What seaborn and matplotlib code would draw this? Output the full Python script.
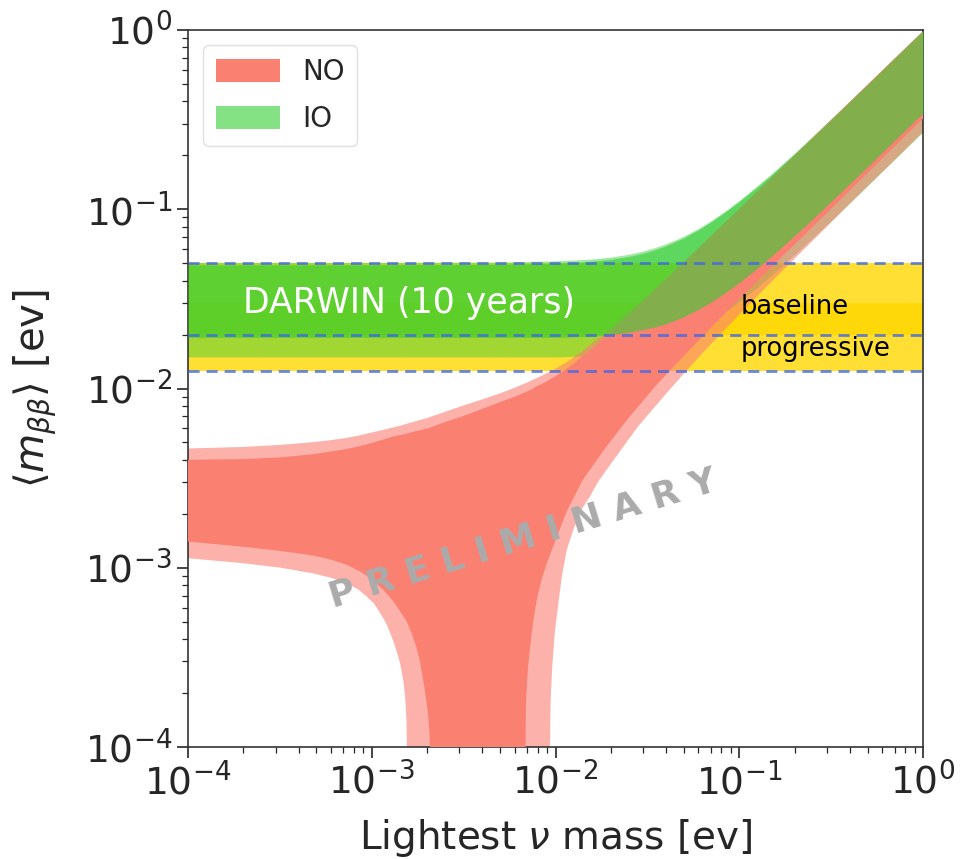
import matplotlib
matplotlib.use('Agg')
import matplotlib.pyplot as plt
import seaborn as sns
from matplotlib.patches import Patch

sns.set_theme(style='ticks')
plt.rcParams['font.family'] = ['DejaVu Sans']

# ---------------- data ----------------
# Normal ordering, 3 sigma (light) band
NO3_x = [1e-4, 2e-4, 3.2e-4, 4.8e-4, 6e-4, 7.3e-4, 8.4e-4, 9.4e-4, 1.03e-3, 1.11e-3, 1.21e-3, 1.31e-3,
         1.38e-3, 1.43e-3, 1.48e-3, 1.52e-3, 1.545e-3, 1.555e-3, 1.57e-3, 2e-3, 2.5e-3, 3e-3, 4e-3,
         5e-3, 6e-3, 7e-3, 8e-3, 9.0e-3, 9.25e-3, 9.33e-3, 9.41e-3, 9.6e-3, 9.9e-3, 1.03e-2, 1.08e-2,
         1.15e-2, 1.25e-2, 1.38e-2, 1.54e-2, 1.7e-2, 1.89e-2, 2.15e-2, 2.43e-2, 2.8e-2, 3.27e-2,
         3.8e-2, 4.38e-2, 5.5e-2, 7e-2, 0.1, 0.15, 0.2, 0.3, 0.5, 0.7, 1.0]
NO3_lo = [0.00113, 0.00106, 0.00100, 0.00093, 0.00088, 0.00082, 0.00076, 0.00069, 0.00063, 0.00056,
          0.00048, 0.00039, 0.00033, 0.00029, 0.00024, 0.00019, 0.00014, 0.00009, 1e-6, 1e-6, 1e-6,
          1e-6, 1e-6, 1e-6, 1e-6, 1e-6, 1e-6, 1e-6, 1e-6, 0.0001, 0.000183, 0.00028, 0.00043, 0.0006,
          0.00088, 0.00125, 0.00163, 0.0021, 0.0025, 0.0030, 0.0035, 0.0042, 0.0050, 0.0061, 0.00736,
          0.0088, 0.0104, 0.01353, 0.01764, 0.0258, 0.0395, 0.053, 0.080, 0.1345, 0.188, 0.27]
NO3_hi = [0.00463, 0.00472, 0.00485, 0.00502, 0.00515, 0.0053, 0.00545, 0.0056, 0.00572, 0.00582,
          0.00595, 0.00607, 0.00615, 0.00621, 0.00627, 0.00632, 0.00635, 0.00636, 0.00638, 0.00685,
          0.0074, 0.0079, 0.0087, 0.0094, 0.0101, 0.0108, 0.0115, 0.0122, 0.0124, 0.0124, 0.0125,
          0.0126, 0.0128, 0.0131, 0.0135, 0.0140, 0.0149, 0.0160, 0.0175, 0.0190, 0.0208, 0.0232,
          0.0259, 0.0295, 0.0341, 0.0393, 0.0450, 0.0562, 0.0713, 0.1012, 0.151, 0.201, 0.300, 0.497,
          0.694, 0.985]

# Normal ordering, 1 sigma (dark) band
NO1_x = [1e-4, 2e-4, 3.2e-4, 4.8e-4, 6e-4, 7.3e-4, 8.7e-4, 1.02e-3, 1.16e-3, 1.31e-3, 1.43e-3, 1.55e-3,
         1.65e-3, 1.75e-3, 1.83e-3, 1.9e-3, 1.97e-3, 2.03e-3, 2.06e-3, 2.075e-3, 2.09e-3, 2.5e-3, 3e-3,
         4e-3, 5e-3, 6e-3, 6.8e-3, 6.87e-3, 6.9e-3, 7.0e-3, 7.09e-3, 7.25e-3, 7.42e-3, 7.65e-3, 7.9e-3,
         8.43e-3, 9.0e-3, 9.7e-3, 1.05e-2, 1.14e-2, 1.25e-2, 1.41e-2, 1.65e-2, 1.89e-2, 2.2e-2, 2.53e-2,
         2.9e-2, 3.41e-2, 4.1e-2, 5e-2, 7e-2, 0.1, 0.15, 0.2, 0.3, 0.5, 0.7, 1.0]
NO1_lo = [0.0014, 0.00131, 0.00124, 0.00117, 0.00111, 0.00104, 0.00095, 0.00085, 0.00075, 0.00065,
          0.00057, 0.0005, 0.00043, 0.00036, 0.0003, 0.00024, 0.00019, 0.00015, 0.00012, 0.0001, 1e-6,
          1e-6, 1e-6, 1e-6, 1e-6, 1e-6, 1e-6, 0.0001, 0.00017, 0.00023, 0.00028, 0.00035, 0.00043,
          0.00054, 0.00066, 0.00087, 0.00107, 0.00131, 0.00162, 0.00202, 0.00244, 0.0031, 0.0039,
          0.00473, 0.0058, 0.00696, 0.0082, 0.0100, 0.0123, 0.01525, 0.0218, 0.0315, 0.0476, 0.0636,
          0.0955, 0.16, 0.224, 0.32]
NO1_hi = [0.0040, 0.00404, 0.00413, 0.0043, 0.00445, 0.0046, 0.00478, 0.0050, 0.0052, 0.0054, 0.0055,
          0.0056, 0.0057, 0.0058, 0.00585, 0.0059, 0.00597, 0.0060, 0.00603, 0.00605, 0.00606, 0.0065,
          0.0069, 0.0077, 0.0084, 0.0090, 0.0095, 0.0095, 0.0096, 0.0096, 0.0097, 0.0098, 0.0099,
          0.0101, 0.0103, 0.0106, 0.0110, 0.0115, 0.0121, 0.0128, 0.0137, 0.0152, 0.0173, 0.0196,
          0.0226, 0.0258, 0.0295, 0.0345, 0.0413, 0.0502, 0.0700, 0.0995, 0.149, 0.198, 0.297, 0.494,
          0.690, 0.980]

# Inverted ordering bands
IO_x   = [1e-4, 1e-3, 5e-3, 1e-2, 1.5e-2, 2e-2, 2.5e-2, 3e-2, 3.5e-2, 4e-2, 4.5e-2, 5e-2, 6e-2, 7e-2,
          8.5e-2, 0.1, 0.125, 0.15, 0.2, 0.25, 0.3, 0.4, 0.5, 0.7, 1.0]
IO3_lo = [0.0150, 0.0150, 0.0150, 0.0150, 0.0152, 0.0156, 0.0160, 0.0166, 0.0173, 0.0180, 0.0188,
          0.0197, 0.0216, 0.0237, 0.0270, 0.0305, 0.0366, 0.0428, 0.0558, 0.069, 0.0821, 0.1088,
          0.1355, 0.1895, 0.27]
IO3_hi = [0.0505, 0.0505, 0.0508, 0.0515, 0.0526, 0.0541, 0.0561, 0.0585, 0.0613, 0.0643, 0.0675,
          0.0709, 0.0783, 0.0862, 0.0988, 0.112, 0.135, 0.158, 0.206, 0.255, 0.304, 0.403, 0.502,
          0.702, 1.0]
IO1_lo = [0.0193, 0.0193, 0.0193, 0.0193, 0.0195, 0.0200, 0.0206, 0.0213, 0.0221, 0.0230, 0.0241,
          0.0252, 0.0277, 0.0303, 0.0346, 0.0390, 0.0469, 0.0549, 0.0713, 0.088, 0.105, 0.139, 0.173,
          0.242, 0.345]
IO1_hi = [0.0490, 0.0490, 0.0493, 0.0500, 0.0511, 0.0526, 0.0545, 0.0568, 0.0596, 0.0626, 0.0660,
          0.0694, 0.0768, 0.0848, 0.0975, 0.1105, 0.1330, 0.1558, 0.2035, 0.2520, 0.3010, 0.3990,
          0.4970, 0.6950, 0.990]

# DARWIN sensitivity bands
sens_levels = [0.05, 0.02, 0.0125]          # dashed lines
baseline_band = (0.02, 0.05)
baseline_core = (0.02, 0.03)
progressive_band = (0.0125, 0.02)

# ---------------- figure ----------------
fig = plt.figure(figsize=(9.61, 8.59), dpi=100)
ax = fig.add_axes([188/961, 1-747/859, (923-188)/961, (747-30)/859])
ax.set_xscale('log')
ax.set_yscale('log')

ax.axhspan(*progressive_band, color='gold', alpha=0.8, lw=0, zorder=0)
ax.axhspan(*baseline_band, color='gold', alpha=0.8, lw=0, zorder=0)
ax.axhspan(*baseline_core, color='gold', alpha=0.8, lw=0, zorder=0)

ax.fill_between(IO_x, IO3_lo, IO3_hi, color='limegreen', alpha=0.45, lw=0, zorder=1)
ax.fill_between(NO3_x, NO3_lo, NO3_hi, color='salmon', alpha=0.6, lw=0, zorder=2)
ax.fill_between(NO1_x, NO1_lo, NO1_hi, color='salmon', alpha=1.0, lw=0, zorder=3)
ax.fill_between(IO_x, IO1_lo, IO1_hi, color='limegreen', alpha=0.6, lw=0, zorder=4)

for lvl in sens_levels:
    ax.axhline(lvl, color='royalblue', ls=(0, (4, 2.5)), lw=2, alpha=0.8, zorder=5)

ax.set_xlim(1e-4, 1)
ax.set_ylim(1e-4, 1)

ax.text(2.0e-4, 0.030, 'DARWIN (10 years)', color='white', fontsize=25, va='center', ha='left', zorder=6)
ax.text(0.102, 0.0285, 'baseline', color='black', fontsize=18.5, va='center', ha='left', zorder=6)
ax.text(0.102, 0.0166, 'progressive', color='black', fontsize=18.5, va='center', ha='left', zorder=6)

ax.text(0.456, 0.29, 'P R E L I M I N A R Y', transform=ax.transAxes, fontsize=26, fontweight='bold',
        color='#ababab', rotation=17, ha='center', va='center', zorder=7)

handles = [Patch(facecolor='salmon', edgecolor='none', label='NO'),
           Patch(facecolor='limegreen', alpha=0.6, edgecolor='none', label='IO')]
leg = ax.legend(handles=handles, loc='upper left', fontsize=20, handlelength=2.3, handleheight=0.9,
                borderpad=0.45, labelspacing=0.7, handletextpad=0.8, borderaxespad=0.55, frameon=True)
leg.get_frame().set_edgecolor('0.85')
leg.set_zorder(10)

ax.set_xlabel(r'Lightest $\nu$ mass [ev]', fontsize=28)
ax.set_ylabel(r'$\langle m_{\beta\beta}\rangle$ [ev]', fontsize=29)
ax.xaxis.set_label_coords(0.5, -0.098)
ax.yaxis.set_label_coords(-0.176, 0.5)
ax.tick_params(axis='both', which='major', labelsize=27, length=8, width=1.2, color='0.15')
ax.tick_params(axis='both', which='minor', length=4, width=0.9, color='0.15')
for s in ax.spines.values():
    s.set_color('0.2')
    s.set_linewidth(1.2)

fig.savefig('out.png', dpi=100)
